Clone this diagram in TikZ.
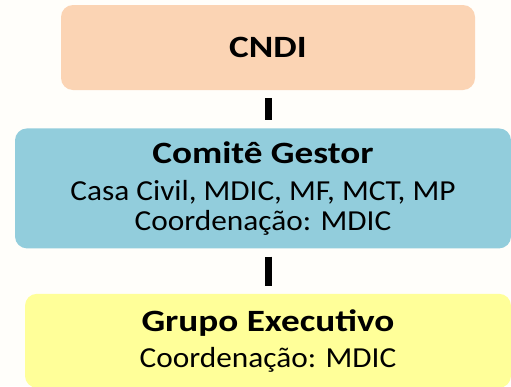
\documentclass[tikz,border=0pt]{standalone}
\usepackage{fontspec}
\setmainfont{Carlito}[FakeStretch=1.08]
\newfontfamily\headfont{Carlito}[FakeStretch=1.2]
\usetikzlibrary{calc}
\usetikzlibrary{positioning}
\definecolor{cndisalmon}{HTML}{FBD4B4}
\definecolor{gestorblue}{HTML}{92CDDC}
\definecolor{execyellow}{HTML}{FFFF99}
\definecolor{paper}{HTML}{FFFEFA}
\begin{document}
\begin{tikzpicture}[x=1pt,y=1pt,
    box/.style={rounded corners=12pt, align=center, inner sep=0pt},
    conn/.style={line width=7pt, shorten <=8pt, shorten >=8pt}]
          \fill[paper] (0,0) rectangle (511,-386);
          \useasboundingbox (0,0) rectangle (511,-386);
          \node[box, fill=cndisalmon, minimum width=414pt, minimum height=85pt,
            font=\fontsize{31}{34}\headfont\bfseries] (cndi) at (268,-47.5) {CNDI};
          \node[box, fill=gestorblue, minimum width=496pt, minimum height=120pt,
            below=38pt of cndi, xshift=-5pt, font=\fontsize{29}{30}\selectfont] (gestor) {
            {\fontsize{31}{32}\headfont\bfseries Comitê Gestor}\\[7pt]
            Casa Civil, MDIC, MF, MCT, MP\\
            Coordenação: MDIC};
          \node[box, fill=execyellow, minimum width=486pt, minimum height=94pt,
            below=45pt of gestor, xshift=5pt, font=\fontsize{29}{30}\selectfont] (exec) {
            {\fontsize{31}{32}\headfont\bfseries Grupo Executivo}\\[6pt]
            Coordenação: MDIC};
          \draw[conn] (cndi.south) -- (cndi.south |- gestor.north);
          \draw[conn] (cndi.south |- gestor.south) -- (cndi.south |- exec.north);
        \end{tikzpicture}
\end{document}
